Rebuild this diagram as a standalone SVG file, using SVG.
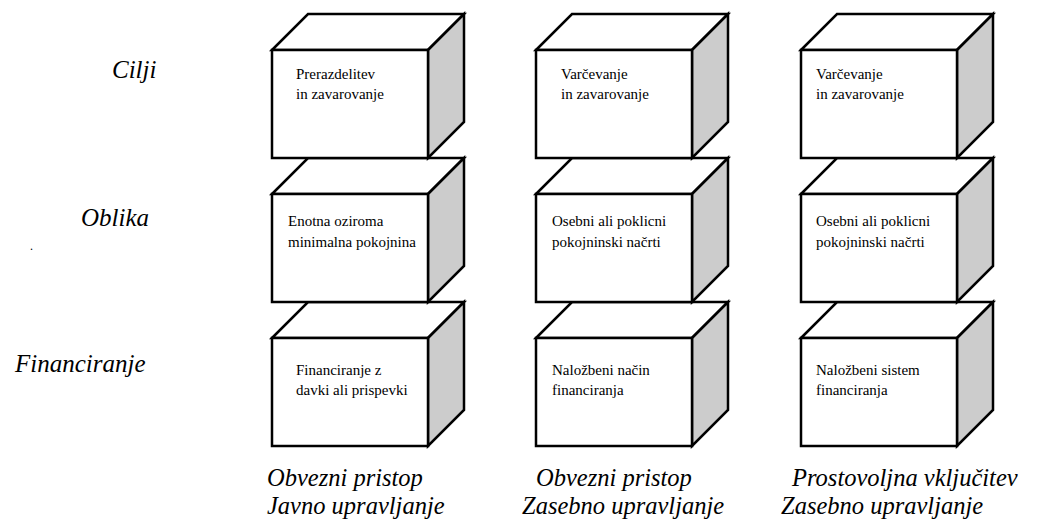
<svg xmlns="http://www.w3.org/2000/svg" width="1044" height="531" viewBox="0 0 1044 531">
<style>
.face{fill:#ffffff;stroke:#000;stroke-width:2.5;stroke-linejoin:miter}
.side{fill:#cccccc;stroke:#000;stroke-width:2.5;stroke-linejoin:miter}
.t{font-family:"Liberation Serif","Times New Roman",serif;font-size:15px;fill:#000}
.lbl{font-family:"Liberation Serif","Times New Roman",serif;font-style:italic;font-size:25px;fill:#000}
.blbl{font-family:"Liberation Serif","Times New Roman",serif;font-style:italic;font-size:24.5px;fill:#000}
</style>
<defs>
<g id="cube">
<polygon class="face" points="0,36 36,0 192,0 156,36"/>
<polygon class="side" points="156,36 192,0 192,108 156,144"/>
<rect class="face" x="0" y="36" width="156" height="108"/>
</g>
</defs>
<g id="row-labels">
<text class="lbl" x="112" y="78">Cilji</text>
<text class="lbl" x="81" y="226">Oblika</text>
<text class="lbl" x="15" y="372">Financiranje</text>
<text class="t" x="30" y="250" style="font-size:12px">.</text>
</g>
<g id="c3r3"><use href="#cube" x="801" y="302"/><text class="t" x="816" y="375">Naložbeni sistem</text><text class="t" x="816" y="395">financiranja</text></g>
<g id="c3r2"><use href="#cube" x="801" y="158"/><text class="t" x="816" y="226">Osebni ali poklicni</text><text class="t" x="816" y="247">pokojninski načrti</text></g>
<g id="c3r1"><use href="#cube" x="801" y="14"/><text class="t" x="816" y="79">Varčevanje</text><text class="t" x="816" y="99">in zavarovanje</text></g>
<g id="c2r3"><use href="#cube" x="536" y="302"/><text class="t" x="552" y="375">Naložbeni način</text><text class="t" x="552" y="395">financiranja</text></g>
<g id="c2r2"><use href="#cube" x="536" y="158"/><text class="t" x="552" y="226">Osebni ali poklicni</text><text class="t" x="552" y="247">pokojninski načrti</text></g>
<g id="c2r1"><use href="#cube" x="536" y="14"/><text class="t" x="561" y="79">Varčevanje</text><text class="t" x="561" y="99">in zavarovanje</text></g>
<g id="c1r3"><use href="#cube" x="272" y="302"/><text class="t" x="296" y="375">Financiranje z</text><text class="t" x="296" y="395">davki ali prispevki</text></g>
<g id="c1r2"><use href="#cube" x="272" y="158"/><text class="t" x="288" y="226">Enotna oziroma</text><text class="t" x="288" y="247">minimalna pokojnina</text></g>
<g id="c1r1"><use href="#cube" x="272" y="14"/><text class="t" x="296" y="79">Prerazdelitev</text><text class="t" x="296" y="99">in zavarovanje</text></g>
<g id="col-labels">
<text class="blbl"><tspan x="267" y="486">Obvezni pristop</tspan><tspan x="267" y="514">Javno upravljanje</tspan></text>
<text class="blbl"><tspan x="536" y="486">Obvezni pristop</tspan><tspan x="522" y="514">Zasebno upravljanje</tspan></text>
<text class="blbl"><tspan x="792" y="486">Prostovoljna vključitev</tspan><tspan x="781" y="514">Zasebno upravljanje</tspan></text>
</g>
<g id="connectors"/>
</svg>
